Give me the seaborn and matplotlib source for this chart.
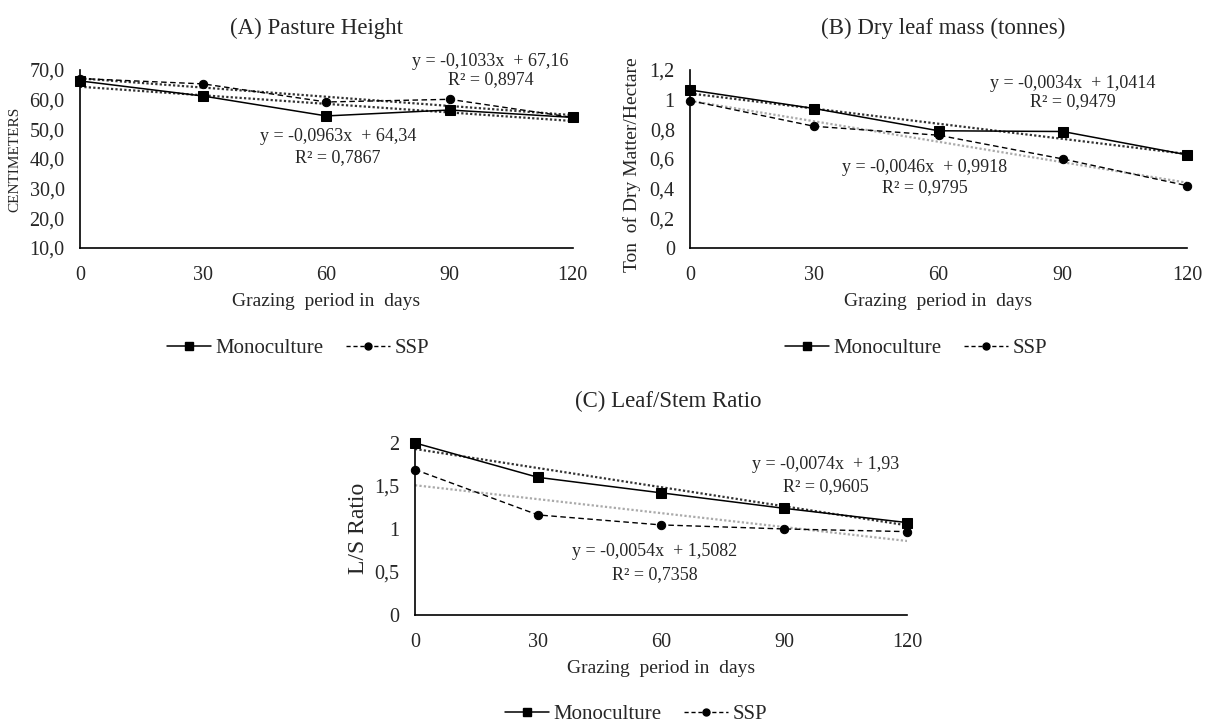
import matplotlib
matplotlib.use("Agg")
import matplotlib.pyplot as plt
import seaborn as sns
from matplotlib.ticker import FuncFormatter
from matplotlib.lines import Line2D

# Grazing days (x axis)
days = [0, 30, 60, 90, 120]

# (A) Pasture height, cm
height_mono = [66.3, 61.2, 54.5, 56.5, 54.0]
height_ssp = [67.1, 65.3, 59.2, 60.1, 54.0]
height_fit_mono = [-0.0963, 64.34]
height_fit_ssp = [-0.1033, 67.16]

# (B) Dry leaf mass, t DM / ha
mass_mono = [1.065, 0.94, 0.79, 0.785, 0.628]
mass_ssp = [0.993, 0.82, 0.76, 0.60, 0.42]
mass_fit_mono = [-0.0034, 1.0414]
mass_fit_ssp = [-0.0046, 0.9918]

# (C) Leaf/stem ratio
ratio_mono = [2.0, 1.60, 1.42, 1.24, 1.074]
ratio_ssp = [1.69, 1.163, 1.047, 1.0, 0.969]
ratio_fit_mono = [-0.0074, 1.93]
ratio_fit_ssp = [-0.0054, 1.5082]

sns.set_style("white")
plt.rcParams["font.family"] = ["Liberation Serif", "DejaVu Serif"]

fig = plt.figure(figsize=(12.11, 7.24), dpi=100)
axA = fig.add_axes([0.066, 0.6575, 0.407, 0.2459])
axB = fig.add_axes([0.5698, 0.6575, 0.4104, 0.2459])
axC = fig.add_axes([0.3427, 0.1506, 0.4063, 0.2376])


def comma(fmt):
    return FuncFormatter(lambda v, p: format(v, fmt).replace(".", ","))


def trend(ax, fit, color):
    xs = [days[0], days[-1]]
    ys = [fit[1] + fit[0] * x for x in xs]
    sns.lineplot(x=xs, y=ys, ax=ax, color=color, linestyle=(0, (1, 1)), linewidth=1.6)


def panel(ax, mono, ssp, fit_mono, fit_ssp, ssp_trend_color, title, title_x,
          ylabel, ylsize, ylab_xy, legend_xy):
    trend(ax, fit_mono, "#333333")
    trend(ax, fit_ssp, ssp_trend_color)
    sns.lineplot(x=days, y=mono, ax=ax, color="black", marker="s", markersize=6.5,
                 markeredgecolor="black", linewidth=1.1, clip_on=False)
    sns.lineplot(x=days, y=ssp, ax=ax, color="black", marker="o", markersize=6,
                 markeredgecolor="black", linewidth=1.0, linestyle=(0, (4, 2.5)), clip_on=False)
    ax.set_xlim(0, 120)
    ax.set_xticks(days)
    ax.set_title(title, fontsize=16.5, pad=26, x=title_x)
    ax.set_xlabel("Grazing  period in  days", fontsize=14, labelpad=6)
    ax.set_ylabel(ylabel, fontsize=ylsize)
    ax.yaxis.set_label_coords(*ylab_xy)
    ax.tick_params(axis="both", labelsize=14.5, length=0)
    ax.tick_params(axis="x", pad=13)
    ax.tick_params(axis="y", pad=11)
    for s in ["top", "right"]:
        ax.spines[s].set_visible(False)
    for s in ["left", "bottom"]:
        ax.spines[s].set_color("black")
        ax.spines[s].set_linewidth(1.2)
    handles = [
        Line2D([], [], color="black", marker="s", markersize=6, linewidth=1.1),
        Line2D([], [], color="black", marker="o", markersize=5, linewidth=1.0, linestyle=(0, (3, 2))),
    ]
    fig.legend(handles, ["Monoculture", "SSP"], loc="center",
               bbox_to_anchor=(legend_xy[0] / 1211, 1 - legend_xy[1] / 724),
               ncol=2, frameon=False, fontsize=15, handlelength=2.1, columnspacing=1.1,
               handletextpad=0.2)


panel(axA, height_mono, height_ssp, height_fit_mono, height_fit_ssp, "#333333",
      "(A) Pasture Height", 0.479, "CENTIMETERS", 11, (-0.118, 0.5), (298, 348))
axA.set_ylim(10, 70)
axA.set_yticks([10, 20, 30, 40, 50, 60, 70])
axA.yaxis.set_major_formatter(comma(".1f"))
axA.text(100, 72.7, "y = -0,1033x  + 67,16", ha="center", va="center", fontsize=13)
axA.text(100, 66.6, "R² = 0,8974", ha="center", va="center", fontsize=13)
axA.text(62.8, 47.4, "y = -0,0963x  + 64,34", ha="center", va="center", fontsize=13)
axA.text(62.8, 40.4, "R² = 0,7867", ha="center", va="center", fontsize=13)

panel(axB, mass_mono, mass_ssp, mass_fit_mono, mass_fit_ssp, "#aaaaaa",
      "(B) Dry leaf mass (tonnes)", 0.51, "Ton  of Dry Matter/Hectare", 14,
      (-0.099, 0.466), (916, 348))
axB.set_ylim(0, 1.2)
axB.set_yticks([0, 0.2, 0.4, 0.6, 0.8, 1.0, 1.2])
axB.yaxis.set_major_formatter(comma("g"))
axB.text(92.5, 1.11, "y = -0,0034x  + 1,0414", ha="center", va="center", fontsize=13)
axB.text(92.5, 0.985, "R² = 0,9479", ha="center", va="center", fontsize=13)
axB.text(56.7, 0.54, "y = -0,0046x  + 0,9918", ha="center", va="center", fontsize=13)
axB.text(56.7, 0.41, "R² = 0,9795", ha="center", va="center", fontsize=13)

panel(axC, ratio_mono, ratio_ssp, ratio_fit_mono, ratio_fit_ssp, "#aaaaaa",
      "(C) Leaf/Stem Ratio", 0.515, "L/S Ratio", 17, (-0.093, 0.506), (636, 714))
axC.set_ylim(0, 2)
axC.set_yticks([0, 0.5, 1.0, 1.5, 2.0])
axC.yaxis.set_major_formatter(comma("g"))
axC.text(100.2, 1.744, "y = -0,0074x  + 1,93", ha="center", va="center", fontsize=13)
axC.text(100.2, 1.49, "R² = 0,9605", ha="center", va="center", fontsize=13)
axC.text(58.5, 0.733, "y = -0,0054x  + 1,5082", ha="center", va="center", fontsize=13)
axC.text(58.5, 0.465, "R² = 0,7358", ha="center", va="center", fontsize=13)

fig.savefig("out.png", dpi=100)
